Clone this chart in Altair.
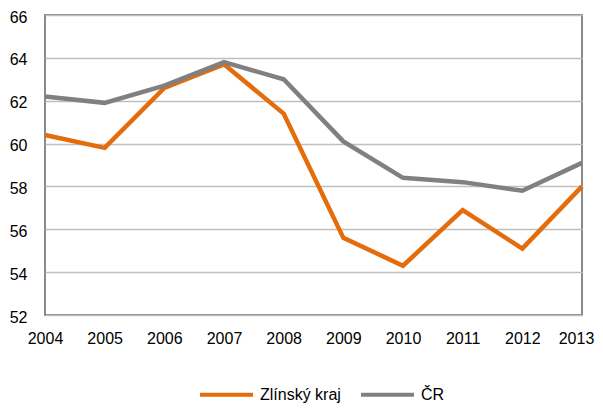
import altair as alt
import pandas as pd

years = [2004, 2005, 2006, 2007, 2008, 2009, 2010, 2011, 2012, 2013]
zlinsky = [60.4, 59.8, 62.6, 63.7, 61.4, 55.6, 54.3, 56.9, 55.1, 58.0]
cr = [62.2, 61.9, 62.7, 63.8, 63.0, 60.1, 58.4, 58.2, 57.8, 59.1]
series_names = ["Zlínský kraj", "ČR"]
series_colors = ["#E46C0A", "#808080"]
y_ticks = [52, 54, 56, 58, 60, 62, 64, 66]

rows = []
for name, vals in zip(series_names, [zlinsky, cr]):
    for yr, v in zip(years, vals):
        rows.append({"year": yr, "value": v, "series": name})
df = pd.DataFrame(rows)

font = "Liberation Sans"

chart = alt.Chart(df).mark_line(strokeWidth=4.5).encode(
    x=alt.X("year:Q",
            scale=alt.Scale(domain=[2004, 2013], nice=False, zero=False),
            axis=alt.Axis(values=years, format="d", title=None, grid=False,
                          domain=False, ticks=False, labelPadding=15,
                          labelOffset=alt.expr("datum.value == 2013 ? -6 : 0"),
                          labelFont=font, labelFontSize=16, labelColor="#000000",
                          labelFlush=False)),
    y=alt.Y("value:Q",
            scale=alt.Scale(domain=[52, 66], nice=False, zero=False),
            axis=alt.Axis(values=y_ticks, title=None, grid=True,
                          gridColor="#BFBFBF", gridWidth=1.5,
                          domain=False, ticks=False, labelPadding=18,
                          labelOffset=2,
                          labelFont=font, labelFontSize=16, labelColor="#000000")),
    color=alt.Color("series:N",
                    scale=alt.Scale(domain=series_names, range=series_colors),
                    legend=alt.Legend(title=None, orient="none", direction="horizontal",
                                      legendX=153, legendY=351, padding=0,
                                      symbolType="stroke", symbolSize=2809,
                                      symbolStrokeWidth=4, labelFont=font,
                                      labelFontSize=16, labelColor="#000000",
                                      labelOffset=5, columnPadding=12)),
    order=alt.Order("year:Q"),
).properties(
    width=537, height=300,
    autosize=alt.AutoSizeParams(type="none"),
    padding={"left": 37, "top": 7, "right": 13, "bottom": 91},
).configure(
    background="#FFFFFF"
).configure_view(
    stroke="#898989", strokeWidth=2
)

chart.save("out.html", embed_options={"renderer": "svg", "actions": False})
